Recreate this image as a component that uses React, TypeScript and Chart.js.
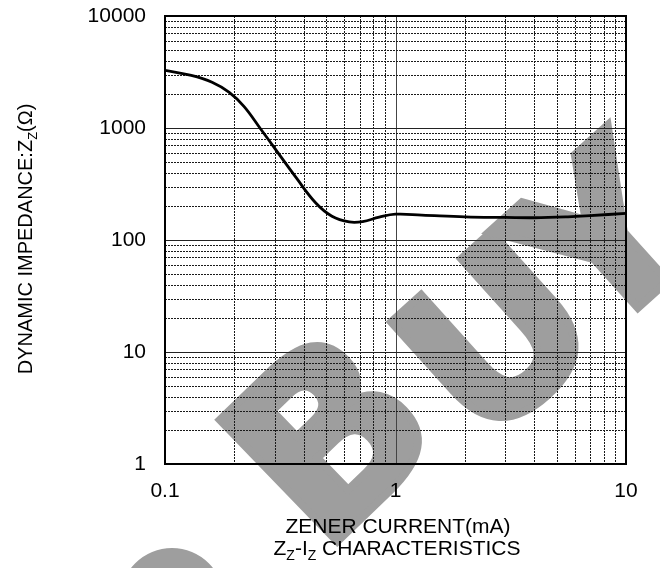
import { useEffect, useRef } from 'react';
import { Chart, registerables } from 'chart.js';

Chart.register(...registerables);

// ---- data ----
const CURRENT_MA = [0.1, 0.13, 0.16, 0.19, 0.22, 0.26, 0.3, 0.37, 0.45, 0.53, 0.63, 0.72, 0.85, 1.0, 1.3, 2, 3, 4, 5.6, 7, 10];
const IMPEDANCE_OHM = [3270, 2950, 2560, 2080, 1560, 980, 655, 362, 215, 163, 145, 146, 160, 170, 167, 161, 159, 158, 161, 165, 173];
const X_TICK_LABELS = ['0.1', '1', '10'];
const Y_TICK_LABELS = ['1', '10', '100', '1000', '10000'];
const X_TITLE_1 = 'ZENER CURRENT(mA)';
const X_TITLE_2 = [
  { t: 'Z' }, { t: 'Z', sub: true }, { t: '-I' }, { t: 'Z', sub: true }, { t: ' CHARACTERISTICS' },
];
const Y_TITLE = [{ t: 'DYNAMIC IMPEDANCE:Z' }, { t: 'Z', sub: true }, { t: '(Ω)' }];
const WATERMARK_LETTERS = ['B', 'U', 'Y'];
const WATERMARK_ANCHORS: [number, number][] = [[214, 420], [385, 322], [483, 232]];
const WATERMARK_SIZES = [232, 214, 214];
const WATERMARK_ANGLES = [-44, -42, -42];

const FONT = '"Liberation Sans", Arial, sans-serif';

type Part = { t: string; sub?: boolean };

function partsWidth(ctx: CanvasRenderingContext2D, parts: Part[], size: number, subSize: number) {
  let w = 0;
  for (const p of parts) {
    ctx.font = `${p.sub ? subSize : size}px ${FONT}`;
    w += ctx.measureText(p.t).width;
  }
  return w;
}

function drawParts(ctx: CanvasRenderingContext2D, parts: Part[], cx: number, baseline: number, size: number, subSize: number) {
  const w = partsWidth(ctx, parts, size, subSize);
  let x = cx - w / 2;
  ctx.textAlign = 'left';
  ctx.textBaseline = 'alphabetic';
  for (const p of parts) {
    ctx.font = `${p.sub ? subSize : size}px ${FONT}`;
    ctx.fillText(p.t, x, baseline + (p.sub ? 5 : 0));
    x += ctx.measureText(p.t).width;
  }
}

function labelFor(v: number, labels: string[]) {
  const hit = labels.find((l) => Math.abs(parseFloat(l) - v) < 1e-9 * Math.max(1, v));
  return hit ?? '';
}

function drawWatermark(ctx: CanvasRenderingContext2D) {
  ctx.save();
  ctx.fillStyle = '#9e9e9e';
  ctx.strokeStyle = '#9e9e9e';
  // ring fragment at bottom left
  ctx.beginPath();
  ctx.arc(172, 600, 52, 0, Math.PI * 2);
  ctx.arc(172, 600, 28, 0, Math.PI * 2, true);
  ctx.fill();
  // rotated letters
  const lw = 8;
  ctx.textAlign = 'left';
  ctx.textBaseline = 'alphabetic';
  ctx.lineWidth = lw;
  ctx.lineJoin = 'miter';
  WATERMARK_LETTERS.forEach((L, i) => {
    const [ax, ay] = WATERMARK_ANCHORS[i];
    ctx.font = `bold ${WATERMARK_SIZES[i]}px "DejaVu Sans", sans-serif`;
    const m = ctx.measureText(L);
    ctx.save();
    ctx.translate(ax, ay);
    ctx.rotate((WATERMARK_ANGLES[i] * Math.PI) / 180);
    const x = m.actualBoundingBoxLeft + lw / 2;
    const y = m.actualBoundingBoxAscent + lw / 2;
    ctx.fillText(L, x, y);
    ctx.strokeText(L, x, y);
    ctx.restore();
  });
  ctx.restore();
}

function gridValues(min: number, max: number) {
  const out: { v: number; major: boolean }[] = [];
  for (let e = Math.floor(Math.log10(min)); e <= Math.ceil(Math.log10(max)); e++) {
    for (let s = 1; s <= 9; s++) {
      const v = s * Math.pow(10, e);
      if (v > min * 1.0001 && v < max * 0.9999) out.push({ v, major: s === 1 });
    }
  }
  return out;
}

const logGridPlugin = {
  id: 'logGrid',
  beforeDraw(chart: any) {
    drawWatermark(chart.ctx);
  },
  beforeDatasetsDraw(chart: any) {
    const { ctx, chartArea, scales } = chart;
    const { left, right, top, bottom } = chartArea;
    const xs = scales.x;
    const ys = scales.y;
    ctx.save();
    ctx.lineWidth = 1;
    for (const g of gridValues(xs.min, xs.max)) {
      const px = Math.round(xs.getPixelForValue(g.v)) + 0.5;
      ctx.setLineDash(g.major ? [] : [2, 1]);
      ctx.strokeStyle = g.major ? '#444' : '#1a1a1a';
      ctx.beginPath();
      ctx.moveTo(px, top);
      ctx.lineTo(px, bottom);
      ctx.stroke();
    }
    for (const g of gridValues(ys.min, ys.max)) {
      const py = Math.round(ys.getPixelForValue(g.v)) + 0.5;
      ctx.setLineDash(g.major ? [] : [2, 1]);
      ctx.strokeStyle = g.major ? '#222' : '#1a1a1a';
      ctx.beginPath();
      ctx.moveTo(left, py);
      ctx.lineTo(right, py);
      ctx.stroke();
    }
    ctx.setLineDash([]);
    ctx.lineWidth = 2;
    ctx.strokeStyle = '#000';
    ctx.strokeRect(left, top, right - left, bottom - top);
    ctx.restore();
  },
  afterDraw(chart: any) {
    const { ctx } = chart;
    ctx.save();
    ctx.fillStyle = '#000';
    ctx.font = `21px ${FONT}`;
    ctx.textAlign = 'center';
    ctx.textBaseline = 'alphabetic';
    ctx.fillText(X_TITLE_1, 398, 533);
    drawParts(ctx, X_TITLE_2, 397, 555, 21, 14);
    ctx.translate(32, 239);
    ctx.rotate(-Math.PI / 2);
    drawParts(ctx, Y_TITLE, 0, 0, 20, 13);
    ctx.restore();
  },
};

export default function App() {
  const ref = useRef<HTMLCanvasElement | null>(null);
  useEffect(() => {
    document.body.style.margin = '0';
    const canvas = ref.current;
    if (!canvas) return;
    const chart = new Chart(canvas, {
      type: 'line',
      data: {
        datasets: [
          {
            data: CURRENT_MA.map((x, i) => ({ x, y: IMPEDANCE_OHM[i] })),
            borderColor: '#000',
            borderWidth: 2.8,
            pointRadius: 0,
            tension: 0.4,
            fill: false,
          },
        ],
      },
      options: {
        responsive: false,
        animation: false,
        layout: { padding: { top: 16, right: 34, left: 0, bottom: 0 } },
        plugins: { legend: { display: false }, tooltip: { enabled: false } },
        scales: {
          x: {
            type: 'logarithmic',
            min: 0.1,
            max: 10,
            grid: { display: false, drawTicks: false },
            border: { display: false },
            ticks: {
              autoSkip: false,
              maxRotation: 0,
              padding: 15,
              color: '#000',
              font: { family: FONT, size: 21 },
              callback: (v: any) => labelFor(Number(v), X_TICK_LABELS),
            },
            afterFit: (s: any) => {
              s.height = 104;
              s.paddingLeft = 0;
              s.paddingRight = 0;
            },
          },
          y: {
            type: 'logarithmic',
            min: 1,
            max: 10000,
            grid: { display: false, drawTicks: false },
            border: { display: false },
            ticks: {
              autoSkip: false,
              padding: 19,
              color: '#000',
              font: { family: FONT, size: 21 },
              callback: (v: any) => labelFor(Number(v), Y_TICK_LABELS),
            },
            afterFit: (s: any) => {
              s.width = 165;
              s.paddingTop = 0;
              s.paddingBottom = 0;
            },
          },
        },
      },
      plugins: [logGridPlugin],
    } as any);
    return () => chart.destroy();
  }, []);
  return (
    <div style={{ width: 660, height: 568 }}>
      <canvas ref={ref} width={660} height={568} style={{ display: 'block' }} />
    </div>
  );
}
